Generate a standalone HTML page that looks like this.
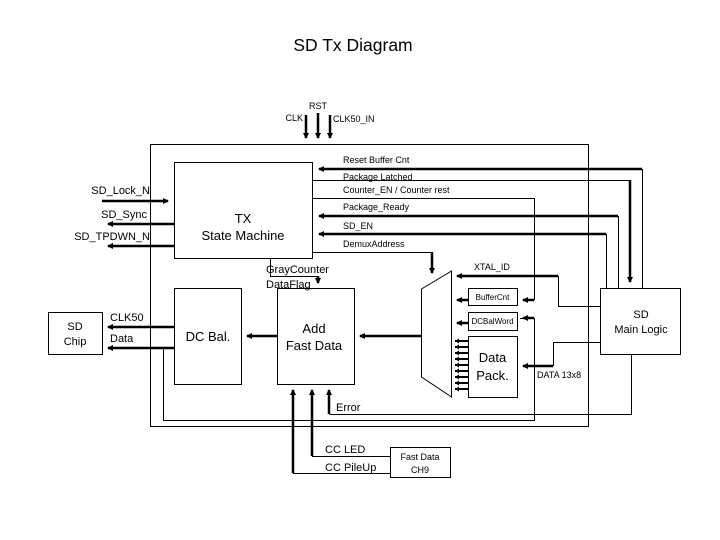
<!DOCTYPE html>
<html><head><meta charset="utf-8"><style>
html,body{margin:0;padding:0;background:#fff}
svg{display:block}
text{font-family:"Liberation Sans",Arial,sans-serif;fill:#000}
.s{font-size:9px}
.m{font-size:11px}
.l{font-size:13px}
</style></head><body>
<svg width="720" height="540" viewBox="0 0 720 540" xmlns="http://www.w3.org/2000/svg">
<defs>
<marker id="a" markerWidth="6" markerHeight="6" refX="5" refY="3" orient="auto" markerUnits="userSpaceOnUse"><path d="M0,0 L6,3 L0,6 z" fill="#000"/></marker>
<marker id="b" markerWidth="4" markerHeight="5" refX="4" refY="2.5" orient="auto" markerUnits="userSpaceOnUse"><path d="M0,0 L4,2.5 L0,5 z" fill="#000"/></marker>
</defs>
<text x="353" y="51" text-anchor="middle" style="font-size:17.5px">SD Tx  Diagram</text>

<g fill="none" stroke="#000" stroke-width="1">
<rect x="150.5" y="144.5" width="438" height="282"/>
<rect x="174.5" y="162.5" width="138" height="96"/>
<rect x="174.5" y="288.5" width="67" height="96"/>
<rect x="277.5" y="288.5" width="77" height="96"/>
<rect x="48.5" y="312.5" width="54" height="42"/>
<rect x="600.5" y="288.5" width="80" height="66"/>
<rect x="468.5" y="288.5" width="49" height="17"/>
<rect x="468.5" y="312.5" width="49" height="18"/>
<rect x="468.5" y="336.5" width="49" height="61"/>
<rect x="390.5" y="447.5" width="60" height="30"/>
<path d="M421.5,289 L451.5,271 L451.5,397 L421.5,377 Z"/>

<path d="M313,180.5 H629.5"/>
<path d="M313,198.5 H534.5 V300"/>
<path d="M618.5,216 V288"/>
<path d="M606.5,234 V288"/>
<path d="M642.5,169 V288"/>
<path d="M313,252.5 H432"/>
<path d="M270.5,258 V276.5 H318"/>
<path d="M558.5,276 V306.5 H600"/>
<path d="M553.5,366 V342.5 H600"/>
<path d="M163.5,348 V420.5 H534.5 V318.5 H520"/>
<path d="M631.5,354 V414.5 H329.5"/>
<path d="M312,456.5 H390"/>
<path d="M293,473.5 H390"/>
</g>

<g fill="none" stroke="#000" stroke-width="2.5">
<path d="M306,115 V138" marker-end="url(#a)"/>
<path d="M318,113 V138" marker-end="url(#a)"/>
<path d="M330,115 V138" marker-end="url(#a)"/>
<path d="M642,169 H319" marker-end="url(#a)"/>
<path d="M618,216 H319" marker-end="url(#a)"/>
<path d="M606,234 H319" marker-end="url(#a)"/>
<path d="M630,180 V282" marker-end="url(#a)"/>
<path d="M432,252 V273" marker-end="url(#a)"/>
<path d="M318,276 V283" marker-end="url(#a)"/>
<path d="M102,201 H168" marker-end="url(#a)"/>
<path d="M174,224 H108" marker-end="url(#a)"/>
<path d="M174,246 H108" marker-end="url(#a)"/>
<path d="M174,327 H108" marker-end="url(#a)"/>
<path d="M174,348 H108" marker-end="url(#a)"/>
<path d="M277,336 H247" marker-end="url(#a)"/>
<path d="M421,336 H360" marker-end="url(#a)"/>
<path d="M558,276 H457" marker-end="url(#a)"/>
<path d="M468,300 H457" marker-end="url(#a)"/>
<path d="M468,323 H457" marker-end="url(#a)"/>
<path d="M534,300 H523" marker-end="url(#a)"/>
<path d="M534,318 H523" marker-end="url(#a)"/>
<path d="M553,366 H523" marker-end="url(#a)"/>
<path d="M293,473 V390" marker-end="url(#a)"/>
<path d="M312,456 V390" marker-end="url(#a)"/>
<path d="M329,414 V390" marker-end="url(#a)"/>
</g>
<g fill="none" stroke="#000" stroke-width="2">
<path d="M468,341 H455" marker-end="url(#b)"/>
<path d="M468,347 H455" marker-end="url(#b)"/>
<path d="M468,353 H455" marker-end="url(#b)"/>
<path d="M468,359 H455" marker-end="url(#b)"/>
<path d="M468,365 H455" marker-end="url(#b)"/>
<path d="M468,371 H455" marker-end="url(#b)"/>
<path d="M468,377 H455" marker-end="url(#b)"/>
<path d="M468,383 H455" marker-end="url(#b)"/>
<path d="M468,389 H455" marker-end="url(#b)"/>
</g>

<text x="318" y="109" text-anchor="middle" class="s">RST</text>
<text x="303" y="121" text-anchor="end" class="s">CLK</text>
<text x="333" y="122" class="s">CLK50_IN</text>
<text x="343" y="163" class="s">Reset Buffer Cnt</text>
<text x="343" y="180" class="s">Package Latched</text>
<text x="343" y="193" class="s">Counter_EN / Counter rest</text>
<text x="343" y="210" class="s">Package_Ready</text>
<text x="343" y="229" class="s">SD_EN</text>
<text x="343" y="247" class="s">DemuxAddress</text>
<text x="474" y="270" class="s">XTAL_ID</text>
<text x="492.5" y="300" text-anchor="middle" style="font-size:8px">BufferCnt</text>
<text x="492.5" y="324" text-anchor="middle" style="font-size:8px">DCBalWord</text>
<text x="537" y="378" class="s">DATA 13x8</text>
<text x="243" y="223" text-anchor="middle" class="l">TX</text>
<text x="243" y="223" dy="17" text-anchor="middle" class="l">State Machine</text>
<text x="150" y="194" text-anchor="end" class="m">SD_Lock_N</text>
<text x="147" y="218" text-anchor="end" class="m">SD_Sync</text>
<text x="150" y="240" text-anchor="end" class="m">SD_TPDWN_N</text>
<text x="266" y="273" class="m">GrayCounter</text>
<text x="266" y="288" class="m">DataFlag</text>
<text x="75" y="330" text-anchor="middle" class="m">SD</text>
<text x="75" y="345" text-anchor="middle" class="m">Chip</text>
<text x="110" y="321" class="m">CLK50</text>
<text x="110" y="342" class="m">Data</text>
<text x="208" y="341" text-anchor="middle" class="l">DC Bal.</text>
<text x="314" y="333" text-anchor="middle" class="l">Add</text>
<text x="314" y="350" text-anchor="middle" class="l">Fast Data</text>
<text x="492.5" y="362" text-anchor="middle" class="l">Data</text>
<text x="492.5" y="380" text-anchor="middle" class="l">Pack.</text>
<text x="641" y="318" text-anchor="middle" class="m">SD</text>
<text x="641" y="333" text-anchor="middle" class="m">Main Logic</text>
<text x="336" y="411" class="m">Error</text>
<text x="325" y="453" class="m">CC LED</text>
<text x="325" y="471" class="m">CC PileUp</text>
<text x="420" y="460" text-anchor="middle" class="s">Fast Data</text>
<text x="420" y="473" text-anchor="middle" class="s">CH9</text>
</svg>
</body></html>
